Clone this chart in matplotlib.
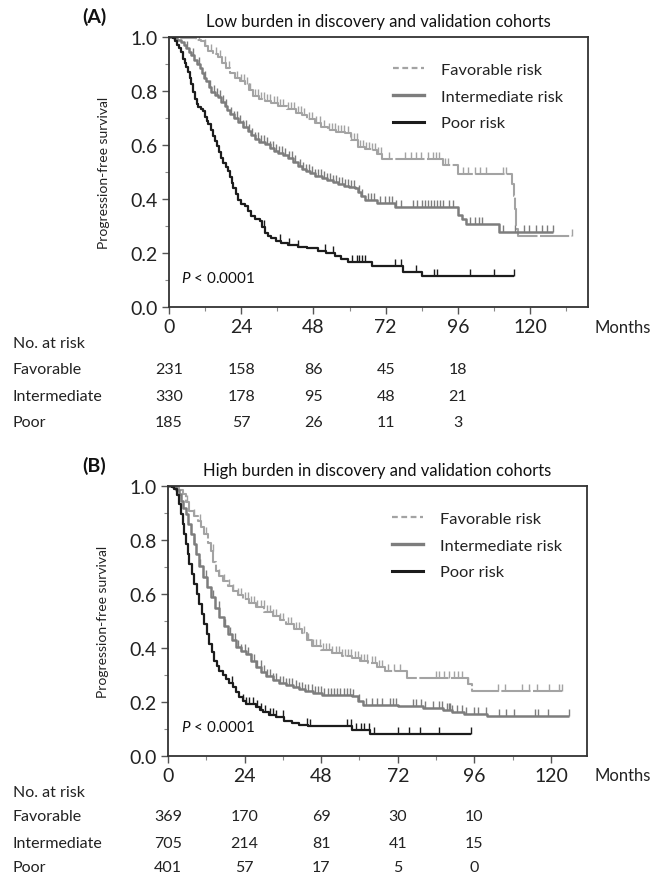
import numpy as np
import matplotlib
matplotlib.use('Agg')
import matplotlib.pyplot as plt
from matplotlib.lines import Line2D
from matplotlib.ticker import MultipleLocator, FormatStrFormatter
from matplotlib.transforms import blended_transform_factory

plt.rcParams['font.family'] = ['Lato', 'DejaVu Sans']
plt.rcParams['mathtext.fontset'] = 'custom'
plt.rcParams['mathtext.it'] = 'Lato:italic'
plt.rcParams['mathtext.rm'] = 'Lato'

# ---- Panel A: low burden (step points) ----
a_fav_t = [0, 4, 6.6, 9, 10.7, 11.8, 13, 14.6, 16.3, 17.7, 19, 20.4, 21.8, 23.5, 25.1, 26.5, 27.9, 29.8, 31.8,
           34, 36.2, 39.3, 42.3, 44.1, 46, 48.5, 50.5, 52.9, 55.5, 58.5, 60.5, 62.9, 65, 67.3, 69, 70.7, 91.1,
           96.1, 113.8, 114.5, 114.9, 115.4, 116, 133.8]
a_fav_s = [1.0, 0.997, 0.995, 0.99, 0.985, 0.968, 0.95, 0.937, 0.925, 0.905, 0.887, 0.868, 0.85, 0.837, 0.825,
           0.803, 0.782, 0.772, 0.763, 0.754, 0.745, 0.732, 0.72, 0.711, 0.697, 0.68, 0.668, 0.655, 0.648, 0.643,
           0.62, 0.594, 0.587, 0.581, 0.565, 0.55, 0.526, 0.491, 0.457, 0.41, 0.364, 0.29, 0.264, 0.264]
a_fav_c = [3, 5, 7, 8.5, 10, 12, 14, 15.5, 17, 18.5, 20, 22.5, 24, 25, 26, 27, 28.5, 29.5, 30.5, 31.5, 32.5, 33.5,
           35, 36, 37, 38, 39.5, 40.5, 41.5, 43, 44, 45, 46.5, 47.5, 49, 50, 51.5, 53, 54, 55, 56, 57, 58, 59.5,
           60.5, 61.5, 62.5, 63.5, 64.5, 65.5, 66.5, 67.5, 68.5, 69.5, 70.5, 73, 78.3, 80.5, 82.2, 83.8, 86, 87.7,
           88.8, 89.7, 91.6, 92.7, 97.7, 99.4, 101.6, 103.2, 105.4, 110.9, 112, 133.8]

a_int_t = [0, 1.5, 2.8, 4.1, 5, 5.8, 6.6, 7.4, 8.3, 9.2, 10.2, 11, 11.7, 12.4, 13.2, 14.1, 15.2, 16.3, 17.4,
           18.5, 19.3, 20.2, 21.5, 22.9, 24.5, 26.2, 27.3, 28.5, 30, 31.8, 33.5, 35, 36.2, 37.8, 39.5, 41.2, 42.9,
           44.3, 45.5, 47, 48.5, 50.7, 52.5, 54.5, 56.2, 58, 59.8, 61.8, 62.8, 63.8, 65.1, 69, 75, 96.1, 97.5,
           98.7, 109.7, 127.7]
a_int_s = [1.0, 0.996, 0.99, 0.983, 0.97, 0.958, 0.945, 0.935, 0.915, 0.9, 0.885, 0.865, 0.85, 0.836, 0.815,
           0.795, 0.785, 0.776, 0.76, 0.745, 0.73, 0.714, 0.7, 0.685, 0.668, 0.652, 0.636, 0.621, 0.61, 0.602,
           0.588, 0.578, 0.571, 0.562, 0.553, 0.538, 0.522, 0.512, 0.505, 0.495, 0.487, 0.476, 0.47, 0.463, 0.457,
           0.45, 0.444, 0.439, 0.425, 0.41, 0.395, 0.385, 0.37, 0.34, 0.325, 0.309, 0.278, 0.278]
a_int_c = [6, 8, 10, 12, 13.5, 15, 16, 17, 18, 19, 20.5, 21.5, 22.5, 23.5, 24.5, 25.5, 26.5, 27.5, 28.5, 29.5,
           30.5, 31.5, 32.5, 33.5, 34.5, 35.5, 36.5, 37.5, 38.5, 40, 41, 42, 43.5, 44.5, 45.5, 46.5, 47.5, 48.5,
           49.5, 50.5, 51.5, 52.5, 53.5, 54.5, 55.5, 56.5, 57.5, 58.5, 59.5, 60.5, 61.5, 63, 64, 66, 67, 68, 70,
           71.7, 73, 74, 75.5, 77, 81, 82.5, 84, 85, 86, 87, 88, 89, 90, 91, 93, 94.5, 100, 101.5, 103, 104,
           110.9, 115, 118, 119.5, 122, 124, 125.5, 127.7]

a_poor_t = [0, 1.2, 1.9, 2.6, 3.3, 4.1, 4.7, 5.3, 5.7, 6.3, 6.9, 7.4, 8, 8.6, 9.2, 9.8, 10.5, 11.3, 12, 12.5, 13,
            13.8, 14.5, 15.2, 15.9, 16.6, 17.4, 18.1, 18.9, 19.6, 20.2, 20.8, 21.3, 22.1, 22.9, 24, 25.1, 26.2,
            27.3, 28.5, 30.1, 30.9, 31.8, 33, 34, 35.5, 37.3, 39.5, 42.9, 46, 49.5, 52, 55.1, 57, 59.6, 67.3,
            77.8, 84, 114.6]
a_poor_s = [1.0, 0.996, 0.985, 0.97, 0.958, 0.945, 0.92, 0.905, 0.89, 0.87, 0.85, 0.825, 0.795, 0.77, 0.752,
            0.742, 0.735, 0.726, 0.705, 0.69, 0.677, 0.655, 0.635, 0.615, 0.595, 0.575, 0.553, 0.535, 0.52, 0.503,
            0.48, 0.46, 0.441, 0.42, 0.398, 0.383, 0.373, 0.355, 0.336, 0.327, 0.317, 0.295, 0.274, 0.262, 0.255,
            0.245, 0.237, 0.23, 0.224, 0.217, 0.209, 0.2, 0.19, 0.178, 0.166, 0.151, 0.129, 0.113, 0.113]
a_poor_c = [31.5, 37, 40, 43, 51.7, 54.5, 60.7, 62.3, 63.2, 64, 65, 75, 77, 82, 88, 89, 100, 108, 114.6]

# ---- Panel B: high burden ----
b_fav_t = [0, 2.5, 3.5, 4.6, 5.6, 6.7, 8, 9.3, 10.3, 11.4, 12.5, 13.5, 14.2, 15, 16, 17.1, 18.7, 20.3, 21.8,
           23.4, 25.5, 27.6, 30.2, 32.8, 35, 37, 39.6, 41.9, 43.5, 45, 48, 51.3, 54.5, 57.6, 60.2, 62.8, 65.4, 68,
           74.8, 94.1, 95.2, 123.4]
b_fav_s = [1.0, 0.995, 0.985, 0.97, 0.94, 0.909, 0.89, 0.872, 0.848, 0.822, 0.79, 0.76, 0.72, 0.686, 0.667,
           0.649, 0.63, 0.612, 0.596, 0.581, 0.566, 0.551, 0.535, 0.52, 0.504, 0.489, 0.47, 0.456, 0.43, 0.406,
           0.393, 0.381, 0.372, 0.363, 0.353, 0.344, 0.33, 0.314, 0.289, 0.267, 0.242, 0.242]
b_fav_c = [6, 8, 10, 12, 14, 16, 17.5, 19, 20.5, 22, 23, 24, 25, 26, 27, 28, 29, 30, 31, 32, 33, 34, 35, 36,
           37.5, 38.5, 40, 41, 42.5, 44, 45.5, 46.5, 47.5, 48.5, 49.5, 50.5, 51.5, 52.5, 53.5, 54.5, 55.5, 56.5,
           57.5, 58.5, 59.5, 60.5, 61.5, 62.5, 64, 65, 66, 67, 69, 70.7, 72.8, 84, 85, 86.5, 88, 89.5, 91, 92,
           94.1, 103.5, 105.6, 110.9, 113, 115.6, 119.3, 122.5, 123.4]

b_int_t = [0, 1.5, 2.5, 3.5, 4.1, 4.8, 5.6, 6.4, 7.2, 8, 8.8, 9.8, 10.9, 12.2, 13.5, 14.8, 16.1, 17.4, 18.7, 20,
           21.3, 22.9, 24.5, 26, 27.6, 29.1, 30.7, 32.8, 34.9, 37, 39.1, 41, 42.9, 45.5, 48.2, 57.6, 59.5, 61.2,
           72.2, 80, 86.3, 88.9, 92.6, 99.9, 125.8]
b_int_s = [1.0, 0.995, 0.985, 0.97, 0.945, 0.92, 0.896, 0.86, 0.822, 0.785, 0.748, 0.705, 0.662, 0.625, 0.588,
           0.55, 0.514, 0.483, 0.452, 0.428, 0.403, 0.39, 0.378, 0.353, 0.328, 0.312, 0.297, 0.282, 0.269, 0.262,
           0.254, 0.247, 0.24, 0.233, 0.227, 0.221, 0.205, 0.19, 0.184, 0.177, 0.171, 0.162, 0.156, 0.147, 0.147]
b_int_c = [8, 10, 12, 14, 16, 18, 19.5, 21, 22, 23, 24, 25, 26, 27, 28, 29, 30, 31, 32, 33, 34, 35, 36, 37, 38,
           39, 40, 41, 42, 43, 44, 45, 46, 47, 48, 49, 50, 51, 52, 53, 54, 55, 56, 57, 58, 60, 62, 64, 65.5, 67,
           69.5, 70.5, 71.5, 76.8, 77.8, 79.4, 80.4, 83, 85, 86, 87.5, 88, 88.5, 89, 90.5, 92, 93.5, 96, 97, 99.5,
           103.6, 106, 108.5, 115, 116, 119, 125.8]

b_poor_t = [0, 1.2, 2, 2.8, 3.5, 4.1, 4.6, 5.1, 5.6, 6.2, 6.7, 7.5, 8.3, 9, 9.8, 10.6, 11.4, 12.2, 13, 13.8,
            14.5, 15.3, 16.1, 17.1, 18.2, 19.2, 20.3, 21.3, 22.4, 23.5, 24.5, 27.6, 28.7, 29.7, 31.8, 33.9, 36.5,
            38.8, 41, 44, 57.6, 63.3, 94.9]
b_poor_s = [1.0, 0.997, 0.989, 0.965, 0.933, 0.895, 0.859, 0.822, 0.785, 0.748, 0.711, 0.674, 0.637, 0.6,
            0.563, 0.526, 0.489, 0.452, 0.415, 0.384, 0.353, 0.333, 0.316, 0.3, 0.285, 0.27, 0.254, 0.236, 0.217,
            0.203, 0.193, 0.183, 0.172, 0.162, 0.152, 0.143, 0.13, 0.122, 0.116, 0.11, 0.097, 0.083, 0.083]
b_poor_c = [20, 23.5, 24.5, 25.5, 26.5, 28, 29, 30.5, 32, 33, 34, 36, 43.5, 44.5, 56, 57.5, 59, 60.5, 61.5, 63,
            64.6, 72.2, 75.6, 79, 85, 94.9]

# numbers at risk
risk_times = [0, 24, 48, 72, 96]
groups = ['Favorable', 'Intermediate', 'Poor']
a_risk_fav = [231, 158, 86, 45, 18]
a_risk_int = [330, 178, 95, 48, 21]
a_risk_poor = [185, 57, 26, 11, 3]
b_risk_fav = [369, 170, 69, 30, 10]
b_risk_int = [705, 214, 81, 41, 15]
b_risk_poor = [401, 57, 17, 5, 0]

legend_labels = ['Favorable risk', 'Intermediate risk', 'Poor risk']
col_fav, col_int, col_poor = '#a3a3a3', '#7d7d7d', '#1c1c1c'
styles = [dict(color=col_fav, lw=1.5, dashes=(14, 1.2)),
          dict(color=col_int, lw=1.8),
          dict(color=col_poor, lw=1.6)]
leg_styles = [dict(color=col_fav, lw=1.6, dashes=(2.6, 1.6)),
              dict(color=col_int, lw=2.4),
              dict(color=col_poor, lw=2.2)]

W, H = 652, 879
fig = plt.figure(figsize=(W / 100, H / 100), dpi=100)


def fy(py):
    return 1 - py / H


def km(ax, t, s, cens, st):
    ax.step(t, s, where='post', solid_capstyle='butt', **st)
    idx = np.searchsorted(t, cens, side='right') - 1
    cy = np.array(s)[idx]
    # censor marks sit on top of the curve
    ax.plot(cens, cy, ls='none', marker=2, ms=5, mew=1.0, color=st['color'])


def panel(rect, xmax, curves, title, tag, tag_y, month_y, table_y, risks):
    ax = fig.add_axes(rect)
    for (t, s, c), st in zip(curves, styles):
        km(ax, t, s, c, st)
    ax.set_xlim(0, xmax)
    ax.set_ylim(0, 1)
    ax.xaxis.set_major_locator(MultipleLocator(24))
    ax.xaxis.set_minor_locator(MultipleLocator(12))
    ax.yaxis.set_major_locator(MultipleLocator(0.2))
    ax.yaxis.set_minor_locator(MultipleLocator(0.1))
    ax.yaxis.set_major_formatter(FormatStrFormatter('%.1f'))
    ax.tick_params(which='major', direction='out', length=5, width=1, color='#555555',
                   labelsize=14, labelcolor='#222222', pad=3)
    ax.tick_params(which='minor', direction='out', length=3, width=0.8, color='#888888')
    for sp in ax.spines.values():
        sp.set_color('#333333')
        sp.set_linewidth(1.3)
    ax.set_title(title, fontsize=12, pad=8, color='#111111')
    ax.set_ylabel('Progression-free survival', fontsize=10, color='#222222')
    ax.yaxis.set_label_coords(-0.142, 0.5)
    ax.text(4, 0.108, r'$P$ < 0.0001', fontsize=11, va='center', ha='left', color='#111111')

    handles = [Line2D([], [], **st) for st in leg_styles]
    ax.legend(handles, legend_labels, loc='upper left', bbox_to_anchor=(0.535, 0.905), frameon=False,
              fontsize=11.8, handlelength=1.9, handletextpad=1.0, labelspacing=0.74,
              borderpad=0, borderaxespad=0, labelcolor='#222222')

    fig.text(82 / W, fy(tag_y), tag, fontsize=14, fontweight='bold', va='center', color='#111111')
    fig.text(651 / W, fy(month_y), 'Months', fontsize=12, va='center', ha='right', color='#222222')

    trans = blended_transform_factory(ax.transData, fig.transFigure)
    fig.text(13 / W, fy(table_y[0]), 'No. at risk', fontsize=11.5, va='center', color='#222222')
    for name, counts, y in zip(groups, risks, table_y[1:]):
        fig.text(13 / W, fy(y), name, fontsize=11.5, va='center', color='#222222')
        for t, n in zip(risk_times, counts):
            ax.text(t, fy(y), str(n), transform=trans, fontsize=11.5, ha='center', va='center',
                    color='#222222')
    return ax


panel([169 / W, fy(308), 419 / W, 270 / H], 139.2,
      [(a_fav_t, a_fav_s, a_fav_c), (a_int_t, a_int_s, a_int_c), (a_poor_t, a_poor_s, a_poor_c)],
      'Low burden in discovery and validation cohorts', '(A)', 17, 328,
      [344, 370, 397, 423], [a_risk_fav, a_risk_int, a_risk_poor])

panel([168 / W, fy(757), 419 / W, 270 / H], 131.3,
      [(b_fav_t, b_fav_s, b_fav_c), (b_int_t, b_int_s, b_int_c), (b_poor_t, b_poor_s, b_poor_c)],
      'High burden in discovery and validation cohorts', '(B)', 466, 776,
      [793, 817, 844, 868], [b_risk_fav, b_risk_int, b_risk_poor])

fig.savefig('out.png', dpi=100)
